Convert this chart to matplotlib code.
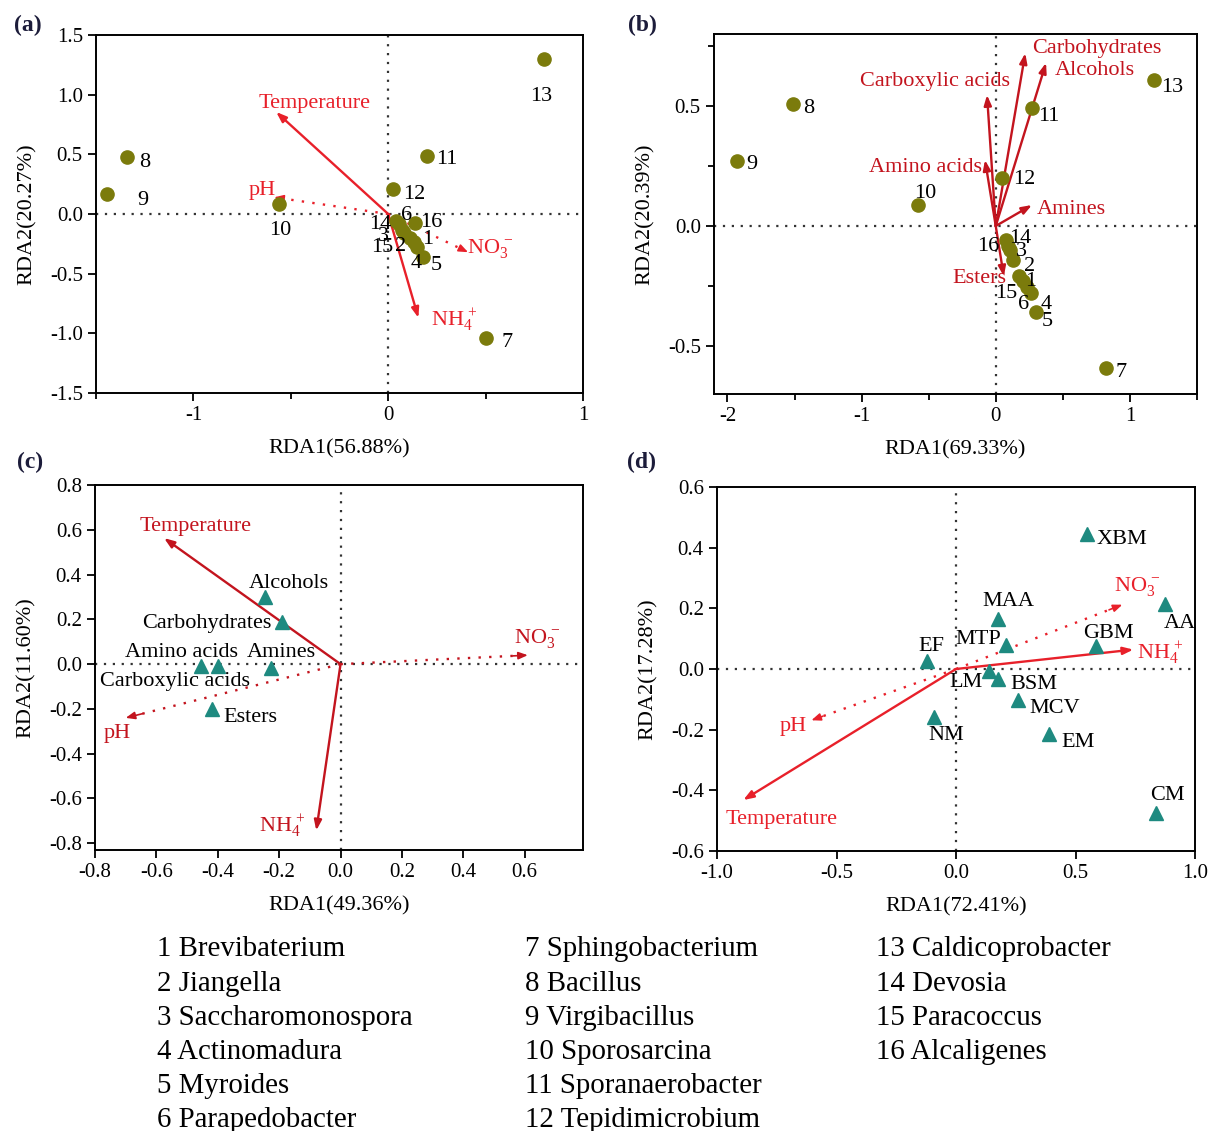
import matplotlib
matplotlib.use('Agg')
import matplotlib.pyplot as plt
from matplotlib.ticker import MultipleLocator, FormatStrFormatter

plt.rcParams['font.family'] = ['Liberation Serif', 'DejaVu Serif']
plt.rcParams['mathtext.fontset'] = 'custom'
plt.rcParams['mathtext.rm'] = 'Liberation Serif'
plt.rcParams['mathtext.it'] = 'Liberation Serif:italic'
plt.rcParams['axes.unicode_minus'] = False

# ---------------- data ----------------
genus_ids = [str(i) for i in range(1, 17)]
genus_names = ['Brevibaterium', 'Jiangella', 'Saccharomonospora', 'Actinomadura',
               'Myroides', 'Parapedobacter', 'Sphingobacterium', 'Bacillus',
               'Virgibacillus', 'Sporosarcina', 'Sporanaerobacter', 'Tepidimicrobium',
               'Caldicoprobacter', 'Devosia', 'Paracoccus', 'Alcaligenes']

# (a) genera vs environment
a_rda1 = [0.135, 0.114, 0.073, 0.15, 0.181, 0.057, 0.50, -1.34, -1.445, -0.56,
          0.20, 0.026, 0.80, 0.041, 0.083, 0.14]
a_rda2 = [-0.235, -0.20, -0.134, -0.277, -0.36, -0.084, -1.04, 0.48, 0.17, 0.08,
          0.49, 0.21, 1.30, -0.059, -0.159, -0.075]
env_names = ['Temperature', 'pH', r'NO$_3^{\,-}$', r'NH$_4^{\,+}$']
a_env_x = [-0.575, -0.585, 0.41, 0.155]
a_env_y = [0.855, 0.14, -0.32, -0.87]

# (b) genera vs VOC classes
b_rda1 = [0.20, 0.13, 0.105, 0.26, 0.30, 0.23, 0.82, -1.51, -1.93, -0.58,
          0.27, 0.05, 1.18, 0.08, 0.17, 0.095]
b_rda2 = [-0.23, -0.14, -0.10, -0.28, -0.36, -0.255, -0.59, 0.51, 0.27, 0.0875,
          0.49, 0.20, 0.61, -0.06, -0.21, -0.085]
voc_names = ['Carbohydrates', 'Alcohols', 'Carboxylic acids', 'Amino acids', 'Amines', 'Esters']
b_voc_x = [0.22, 0.375, -0.065, -0.08, 0.27, 0.06]
b_voc_y = [0.72, 0.68, 0.546, 0.275, 0.0875, -0.21]

# (c) VOC classes vs environment
c_names = ['Alcohols', 'Carbohydrates', 'Amino acids', 'Carboxylic acids', 'Amines', 'Esters']
c_rda1 = [-0.246, -0.19, -0.456, -0.40, -0.225, -0.42]
c_rda2 = [0.30, 0.19, -0.01, -0.01, -0.015, -0.20]
c_env_x = [-0.575, -0.70, 0.61, -0.079]
c_env_y = [0.563, -0.24, 0.04, -0.743]

# (d) compounds vs environment
d_names = ['XBM', 'AA', 'MAA', 'MTP', 'GBM', 'EF', 'LM', 'BSM', 'MCV', 'NM', 'EM', 'CM']
d_rda1 = [0.547, 0.875, 0.177, 0.21, 0.587, -0.122, 0.14, 0.177, 0.258, -0.093, 0.39, 0.836]
d_rda2 = [0.445, 0.215, 0.164, 0.08, 0.075, 0.025, -0.008, -0.033, -0.103, -0.158, -0.213, -0.474]
d_env_x = [-0.89, -0.605, 0.696, 0.742]
d_env_y = [-0.432, -0.169, 0.212, 0.064]

# ---------------- style / layout ----------------
W, H = 1213, 1131
OLIVE = '#7b7b0c'
TEAL = '#1e8a80'
RED_A = '#e8202a'
RED_B = '#c3141e'
FS = 16

a_env_dotted = [False, True, True, False]
c_env_dotted = [False, True, True, False]
d_env_dotted = [False, True, True, False]
c_env_names = ['Temperature', 'pH', r'NO$_3^{\,-}$', r'NH$_4^{\,+}$']

# label offsets in pixels (dx, dy)
a_lab_off = [(13, 3), (-10, -9), (-19, -7), (-1, -16), (13, -9), (7, 9), (21, -4), (18, -6),
             (36, -7), (1, -26), (20, -4), (21, -6), (-3, -38), (-16, -3), (-22, -15), (16, 0)]
a_env_off = [(38, 8), (-12, 7), (22, 4), (36, -2)]
b_lab_off = [(8, 0), (16, -7), (12, -1), (16, -11), (11, -9), (-3, -17), (15, -5), (16, -5),
             (15, -3), (7, 11), (17, -8), (22, -1), (18, -8), (14, 2), (-12, -17), (-20, 0)]
b_voc_off = [(72, 5), (49, -8), (-52, 13), (-60, -7), (39, -5), (-24, -2)]
c_lab_off = [(24, 13), (-75, -2), (-19, 14), (-43, -15), (10, 15), (39, -9)]
c_env_off = [(32, 12), (-8, -16), (9, 17), (-34, 5)]
d_lab_off = [(35, -5), (15, -20), (10, 18), (-28, 5), (12, 13), (5, 15), (-23, -11),
             (36, -5), (37, -8), (12, -19), (29, -9), (12, 17)]
d_env_off = [(38, -19), (-18, -6), (15, 18), (27, -3)]


def frac(left, top, right, bottom):
    return [left / W, 1 - bottom / H, (right - left) / W, (bottom - top) / H]


def setup(ax, xlim, ylim, xlabel, ylabel):
    ax.set_xlim(*xlim)
    ax.set_ylim(*ylim)
    ax.axhline(0, color='#333333', lw=1.6, ls=(0, (1, 3)), zorder=1)
    ax.axvline(0, color='#333333', lw=1.6, ls=(0, (1, 3)), zorder=1)
    ax.tick_params(which='both', direction='out', top=False, right=False,
                   labelsize=15, width=1.3)
    ax.tick_params(which='major', length=6)
    ax.tick_params(which='minor', length=4)
    for s in ax.spines.values():
        s.set_linewidth(1.4)
    ax.set_xlabel(xlabel, fontsize=FS, labelpad=10)
    ax.set_ylabel(ylabel, fontsize=FS, labelpad=9)


def vector(ax, x, y, name, col, dotted, off):
    if dotted:
        ax.plot([0, x * 0.95], [0, y * 0.95], color=col, lw=1.7, ls=(0, (1, 3.5)), zorder=3)
        ax.annotate('', xy=(x, y), xytext=(x * 0.92, y * 0.92),
                    arrowprops=dict(arrowstyle='-|>,head_length=0.55,head_width=0.22',
                                    color=col, lw=1.2, shrinkA=0, shrinkB=0), zorder=3)
    else:
        ax.annotate('', xy=(x, y), xytext=(0, 0),
                    arrowprops=dict(arrowstyle='-|>,head_length=0.6,head_width=0.22',
                                    color=col, lw=1.7, shrinkA=0, shrinkB=0), zorder=3)
    ax.annotate(name, xy=(x, y), xytext=off, textcoords='offset pixels',
                ha='center', va='center', color=col, fontsize=FS, zorder=5)


def points(ax, xs, ys, labels, offs, marker, color, ms):
    ax.plot(xs, ys, ls='none', marker=marker, color=color, ms=ms, zorder=4)
    for x, y, t, o in zip(xs, ys, labels, offs):
        ax.annotate(t, xy=(x, y), xytext=o, textcoords='offset pixels',
                    ha='center', va='center', fontsize=FS, color='black', zorder=5)


fig = plt.figure(figsize=(W / 100, H / 100), dpi=100)

# (a)
ax = fig.add_axes(frac(96, 35, 583, 393))
setup(ax, (-1.5, 1.0), (-1.5, 1.5), 'RDA1(56.88%)', 'RDA2(20.27%)')
ax.xaxis.set_major_locator(MultipleLocator(1))
ax.xaxis.set_minor_locator(MultipleLocator(0.5))
ax.xaxis.set_major_formatter(FormatStrFormatter('%d'))
ax.yaxis.set_major_locator(MultipleLocator(0.5))
ax.yaxis.set_major_formatter(FormatStrFormatter('%.1f'))
for i in range(len(env_names)):
    vector(ax, a_env_x[i], a_env_y[i], env_names[i], RED_A, a_env_dotted[i], a_env_off[i])
points(ax, a_rda1, a_rda2, genus_ids, a_lab_off, 'o', OLIVE, 9.5)

# (b)
ax = fig.add_axes(frac(714, 34, 1197, 394))
setup(ax, (-2.1, 1.5), (-0.7, 0.8), 'RDA1(69.33%)', 'RDA2(20.39%)')
ax.xaxis.set_major_locator(MultipleLocator(1))
ax.xaxis.set_minor_locator(MultipleLocator(0.5))
ax.xaxis.set_major_formatter(FormatStrFormatter('%d'))
ax.yaxis.set_major_locator(MultipleLocator(0.5))
ax.yaxis.set_minor_locator(MultipleLocator(0.25))
ax.yaxis.set_major_formatter(FormatStrFormatter('%.1f'))
for i in range(len(voc_names)):
    vector(ax, b_voc_x[i], b_voc_y[i], voc_names[i], RED_B, False, b_voc_off[i])
points(ax, b_rda1, b_rda2, genus_ids, b_lab_off, 'o', OLIVE, 9.5)

# (c)
ax = fig.add_axes(frac(95, 485, 583, 850))
setup(ax, (-0.8, 0.79), (-0.83, 0.8), 'RDA1(49.36%)', 'RDA2(11.60%)')
ax.xaxis.set_major_locator(MultipleLocator(0.2))
ax.yaxis.set_major_locator(MultipleLocator(0.2))
ax.xaxis.set_major_formatter(FormatStrFormatter('%.1f'))
ax.yaxis.set_major_formatter(FormatStrFormatter('%.1f'))
for i in range(len(c_env_names)):
    vector(ax, c_env_x[i], c_env_y[i], c_env_names[i], RED_B, c_env_dotted[i], c_env_off[i])
points(ax, c_rda1, c_rda2, c_names, c_lab_off, '^', TEAL, 10)

# (d)
ax = fig.add_axes(frac(717, 487, 1195, 851))
setup(ax, (-1.0, 1.0), (-0.6, 0.6), 'RDA1(72.41%)', 'RDA2(17.28%)')
ax.xaxis.set_major_locator(MultipleLocator(0.5))
ax.yaxis.set_major_locator(MultipleLocator(0.2))
ax.xaxis.set_major_formatter(FormatStrFormatter('%.1f'))
ax.yaxis.set_major_formatter(FormatStrFormatter('%.1f'))
d_env_names = ['Temperature', 'pH', r'NO$_3^{\,-}$', r'NH$_4^{\,+}$']
for i in range(len(d_env_names)):
    vector(ax, d_env_x[i], d_env_y[i], d_env_names[i], RED_A, d_env_dotted[i], d_env_off[i])
points(ax, d_rda1, d_rda2, d_names, d_lab_off, '^', TEAL, 10)

# panel tags
for tag, px, py in [('(a)', 28, 25), ('(b)', 642, 25), ('(c)', 30, 462), ('(d)', 642, 462)]:
    fig.text(px / W, 1 - py / H, tag, fontsize=17, fontweight='bold',
             color='#1c1c3a', ha='center', va='center')

# genus key below the panels
col_x = [157, 525, 876]
row_y = [949, 984, 1018, 1052, 1086, 1120]
for k, (gid, name) in enumerate(zip(genus_ids, genus_names)):
    c, r = divmod(k, 6)
    fig.text(col_x[c] / W, 1 - row_y[r] / H, gid + ' ' + name, fontsize=20.8,
             ha='left', va='center')

fig.savefig('out.png', dpi=100)
